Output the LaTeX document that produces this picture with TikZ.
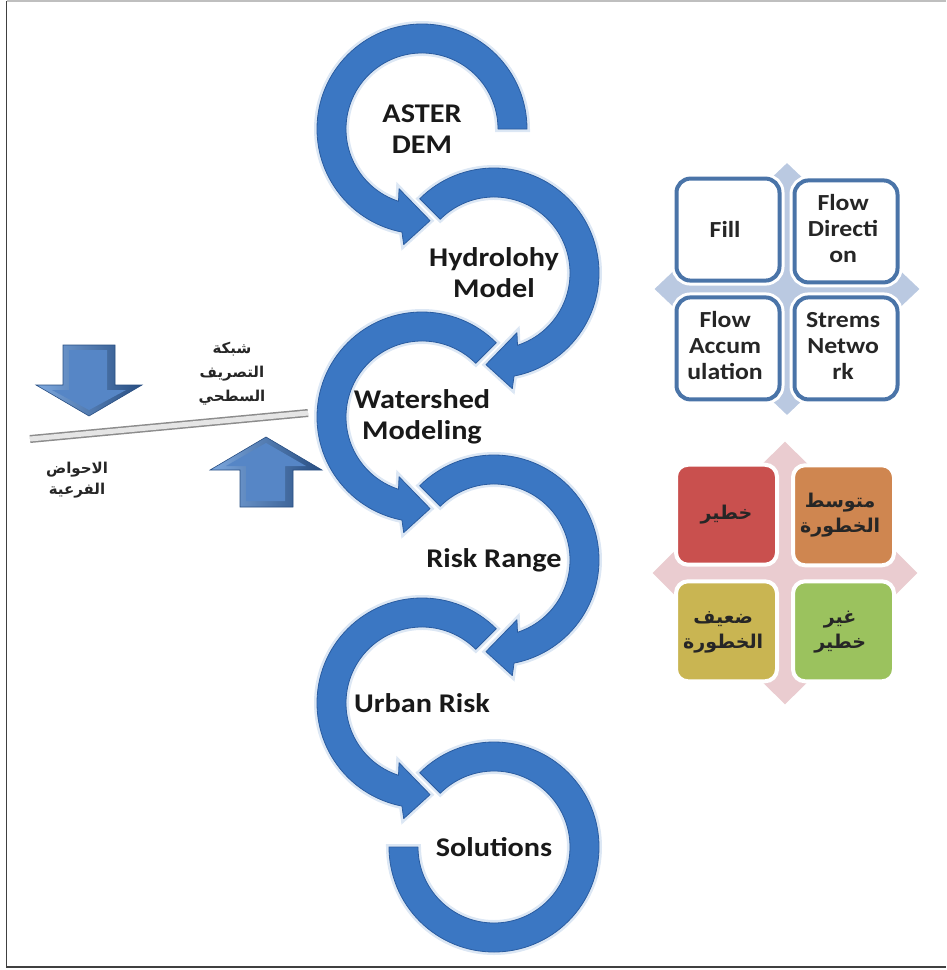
\documentclass[tikz,border=0pt]{standalone}
\usepackage{fontspec}
\usetikzlibrary{matrix, fit, backgrounds, shapes.geometric}
\newfontfamily\chainfont{Carlito}[FakeStretch=1.12]
\newfontfamily\arabicfont[Script=Arabic]{DejaVu Sans}
\TeXXeTstate=1
\definecolor{ringblue}{RGB}{59,119,195}
\definecolor{ringedge}{RGB}{42,92,160}
\definecolor{tileblue}{RGB}{74,116,168}
\definecolor{diamblue}{RGB}{186,201,225}
\definecolor{diampink}{RGB}{234,204,208}
\definecolor{riskred}{RGB}{201,80,78}
\definecolor{riskorange}{RGB}{207,134,80}
\definecolor{riskyellow}{RGB}{201,181,82}
\definecolor{riskgreen}{RGB}{155,194,94}
\definecolor{arrowlight}{RGB}{125,168,222}
\definecolor{arrowdark}{RGB}{40,78,130}
\definecolor{arrowface}{RGB}{86,134,198}
\newcommand{\ringArrow}[4]{
    \fill[ring] ([shift={(#2:105)}]#1) arc[start angle=#2, end angle=#3+4*#4, radius=105]
        -- ([shift={(#3+6*#4:117)}]#1) -- ([shift={(#3+20*#4:92)}]#1)
        -- ([shift={(#3-6*#4:64)}]#1) -- ([shift={(#3-3*#4:76)}]#1)
        arc[start angle=#3-3*#4, end angle=#2, radius=76] -- cycle;
}
\newcommand{\cellLines}[1]{\begin{tabular}{@{}c@{}}#1\end{tabular}}
\begin{document}
\begin{tikzpicture}[x=1pt, y=1pt,
    ring/.style={fill=ringblue, draw=ringedge, line width=0.8pt, line join=round,
        preaction={draw=ringblue!18, line width=6pt}},
    stage/.style={font=\chainfont\bfseries\fontsize{27}{31}\selectfont, align=center, text=black!90},
    tile/.style={draw=tileblue, line width=4pt, fill=white, rounded corners=14pt,
        minimum width=103pt, minimum height=102pt, inner sep=2pt, align=center,
        font=\chainfont\bfseries\fontsize{23}{26}\selectfont, text=black!85,
        preaction={draw=white, line width=10pt}},
    risk tile/.style={draw=white, line width=4pt, rounded corners=12pt,
        minimum width=101pt, minimum height=100pt, inner sep=2pt, align=center,
        font=\arabicfont\bfseries\fontsize{19}{25}\selectfont, text=black!85},
    block arrow/.style={left color=arrowlight, right color=arrowdark, draw=arrowdark, line width=0.6pt},
    ar label/.style={font=\arabicfont\bfseries\fontsize{15}{24}\selectfont, align=center, text=black!85}
    ]
    \useasboundingbox (0,0) rectangle (946,-970);
    \draw[black!25, line width=1.2pt] (6.5,-1) -- (946,-1);
    \draw[black!75, line width=1.5pt] (6.5,-1) -- (6.5,-967) -- (946,-967);

    \coordinate (c1) at (422,-129);
    \coordinate (c2) at (494,-273);
    \coordinate (c3) at (422,-417);
    \coordinate (c4) at (494,-560);
    \coordinate (c5) at (422,-703);
    \coordinate (c6) at (494,-847);
    \foreach \c/\s/\e/\d in {c1/0/255/1, c2/135/-75/-1, c3/45/255/1, c4/135/-75/-1, c5/45/255/1}
        {\ringArrow{\c}{\s}{\e}{\d}}
    \fill[ring] ([shift={(135:105)}]c6) arc[start angle=135, end angle=-180, radius=105]
        -- ([shift={(180:76)}]c6) arc[start angle=-180, end angle=135, radius=76] -- cycle;

    \node[stage] (dem) at (c1) {ASTER\\DEM};
    \node[stage] (hydro) at (c2) {Hydrolohy\\Model};
    \node[stage] (shed) at (c3) {Watershed\\Modeling};
    \node[stage] (range) at (c4) {Risk Range};
    \node[stage] (urban) at (c5) {Urban Risk};
    \node[stage] (sol) at (c6) {Solutions};

    \matrix[
        matrix of nodes,
        row sep=5pt,
        column sep=5pt,
        nodes={tile},
        ] (flow) at (787,-289)
        {
            Fill & \cellLines{Flow\\Directi\\on} \\
            \cellLines{Flow\\Accum\\ulation} & \cellLines{Strems\\Netwo\\rk} \\
        };
    \matrix[
        matrix of nodes,
        row sep=12pt,
        column sep=12pt,
        nodes={risk tile},
        ] (risk) at (785,-573)
        {
            |[fill=riskred]| \beginR خطير\endR & |[fill=riskorange]| \cellLines{\beginR متوسط\endR\\\beginR الخطورة\endR} \\
            |[fill=riskyellow]| \cellLines{\beginR ضعيف\endR\\\beginR الخطورة\endR} & |[fill=riskgreen]| \cellLines{\beginR غير\endR\\\beginR خطير\endR} \\
        };
    \begin{scope}[on background layer]
        \node[diamond, fill=diamblue, minimum width=265pt, minimum height=252pt, inner sep=0pt] (flowdiam) at (flow.center) {};
        \node[diamond, fill=diampink, minimum width=265pt, minimum height=263pt, inner sep=0pt] (riskdiam) at (risk.center) {};
    \end{scope}

    \path[block arrow] (63,-345) -- (115,-345) -- (115,-385) -- (142,-385) -- (89,-416) -- (36,-385) -- (63,-385) -- cycle;
    \fill[arrowface] (69,-350) -- (107,-350) -- (107,-390) -- (126,-390) -- (89,-410) -- (52,-390) -- (69,-390) -- cycle;
    \path[block arrow] (240,-507) -- (293,-507) -- (293,-470) -- (322,-470) -- (266,-437) -- (210,-470) -- (240,-470) -- cycle;
    \fill[arrowface] (246,-501) -- (285,-501) -- (285,-466) -- (306,-466) -- (266,-443) -- (226,-466) -- (246,-466) -- cycle;

    \coordinate (barL) at (30,-439);
    \coordinate (barR) at (308,-413);
    \draw[line width=8pt, black!45] (barL) -- (barR);
    \draw[line width=5pt, black!10] (barL) -- (barR);

    \node[ar label] (net) at (232,-374) {\beginR شبكة\endR\\\beginR التصريف\endR\\\beginR السطحي\endR};
    \node[ar label, font=\arabicfont\bfseries\fontsize{15}{21}\selectfont] (basin) at (77,-480) {\beginR الاحواض\endR\\\beginR الفرعية\endR};
\end{tikzpicture}
\end{document}
